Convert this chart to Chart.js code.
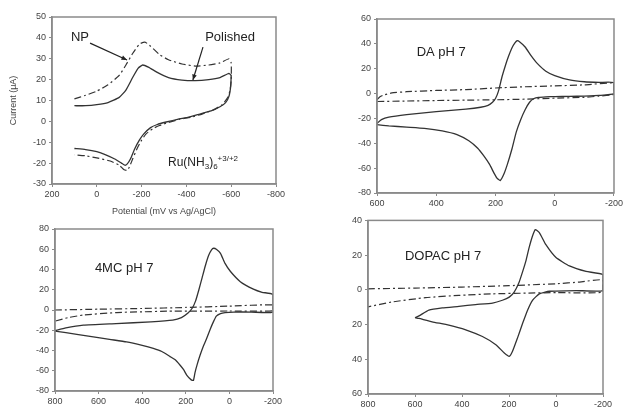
<!DOCTYPE html>
<html>
<head>
<meta charset="utf-8">
<script src="https://cdn.jsdelivr.net/npm/chart.js@4.4.0/dist/chart.umd.min.js"></script>
<style>
    html, body { margin: 0; padding: 0; background: #fff; }
    body { width: 625px; height: 414px; position: relative; overflow: hidden; }
    canvas { position: absolute; }
</style>
</head>
<body>
<canvas id="ru" style="left:0px;top:0px" width="290" height="218"></canvas>
<canvas id="da" style="left:320px;top:0px" width="305" height="210"></canvas>
<canvas id="mc" style="left:0px;top:218px" width="290" height="196"></canvas>
<canvas id="dopac" style="left:320px;top:212px" width="305" height="202"></canvas>
<script>
// Ru(NH3)6 panel - potential (mV) and current (uA), forward then reverse sweep
const npE = [100, 50, 0, -50, -100, -130, -160, -190, -215, -240, -280, -320, -380, -440, -500, -550, -590, -600,
    -600, -595, -585, -560, -520, -470, -420, -370, -320, -280, -250, -220, -200, -180, -160, -145, -135, -120, -100, -60, 0, 50, 100];
const npI = [10.8, 12.5, 14.5, 17.5, 22, 27, 32.5, 37, 38, 36, 32, 29.5, 27.5, 26.5, 27, 28, 30, 28,
    20, 15, 11.5, 8, 5.5, 3.5, 2, 1, -0.5, -2, -3.5, -6, -9, -13, -18, -22, -23.5, -23, -21, -19, -17.5, -16.5, -16];
const polE = [100, 50, 0, -50, -100, -130, -160, -185, -205, -230, -270, -320, -380, -440, -500, -550, -590, -600,
    -600, -598, -590, -575, -550, -510, -460, -410, -360, -310, -270, -240, -210, -190, -170, -150, -135, -125, -110, -80, -40, 0, 50, 100];
const polI = [7.5, 7.5, 8, 9, 11.5, 15, 21, 25.5, 27, 26, 23.5, 21, 19.8, 19.5, 20, 21, 23, 22,
    22, 17, 12, 9, 7, 5, 3.5, 2, 1, -0.3, -1.5, -3, -6, -9, -13, -18, -20.5, -21, -20, -18, -16, -14.5, -13.5, -13];

// DA pH 7
const daE = [600, 585, 560, 500, 400, 300, 250, 225, 210, 200, 190, 178, 166, 156, 145, 135, 127, 118, 100, 80, 60, 30, 0, -50, -100, -150, -200,
    -200, -150, -100, -50, 0, 30, 55, 70, 85, 100, 115, 130, 145, 160, 172, 184, 195, 205, 220, 240, 260, 290, 330, 380, 440, 500, 560, 600];
const daI = [-24, -21, -19, -17, -14.5, -12.5, -11, -9.5, -7, -4, 2, 13.5, 23, 30, 36.5, 40.5, 42.5, 41.5, 37.5, 30.5, 24.5, 18, 14.5, 11, 9.5, 9, 8.8,
    0, -1.5, -2, -2.3, -2.4, -2.6, -3, -4, -7, -13, -21, -31, -45, -57, -65, -70, -68, -64, -57, -50, -44, -38, -33, -30, -28, -27, -26, -25];
const daBlankE = [600, 590, 575, 550, 500, 400, 300, 200, 100, 0, -100, -200,
    -200, -150, -100, 0, 100, 200, 300, 400, 500, 600];
const daBlankI = [-5, -2.5, -1, 0.5, 1.5, 2.5, 3.2, 4.5, 5.5, 6.2, 7, 8.3,
    -0.5, -2, -3, -3.7, -4.5, -5, -5.3, -5.6, -6, -6.4];

// 4MC pH 7
const mcE = [800, 750, 670, 520, 360, 260, 220, 190, 170, 155, 140, 125, 110, 95, 82, 72, 60, 41, 20, -5, -50, -110, -150, -200,
    -200, -100, -20, 20, 41, 60, 72, 88, 104, 120, 135, 148, 158, 165, 175, 195, 210, 226, 250, 272, 310, 349, 400, 472, 550, 594, 700, 800];
const mcI = [-20.5, -17.7, -15, -13.4, -11.7, -10, -7.5, -3, 2, 9, 20, 32, 44, 54, 59.5, 61, 60, 56, 46, 38, 28, 20.6, 17.5, 15.3,
    -2, -2, -2, -2.5, -3.5, -6, -11, -19, -28, -36, -45, -54, -62, -69.5, -69, -64.5, -59, -54.6, -49, -46, -41, -38, -35, -31.5, -29, -27.5, -24, -20.8];
const mcBlankE = [800, 600, 400, 200, 0, -200,
    -200, 0, 287, 400, 517, 670, 740, 800];
const mcBlankI = [0, 0.8, 1.5, 2.5, 3.8, 5,
    -0.8, -1, -1.2, -1.8, -2.5, -5, -7.5, -11];

// DOPAC pH 7
const dopacE = [600, 583, 541, 484, 413, 342, 270, 228, 199, 178, 157, 142, 128, 115, 100, 88, 71, 43, 0, -57, -128, -200,
    -200, -86, 28, 71, 100, 121, 142, 164, 185, 199, 220, 256, 313, 384, 456, 527, 583, 600];
const dopacI = [-16, -15, -11.7, -10.4, -9.5, -8.5, -7.6, -6, -4.2, -1.3, 4.4, 10.5, 16.7, 24, 31, 34.7, 33, 26, 18.6, 13.8, 10.6, 8.7,
    -0.4, -0.4, -0.8, -2.3, -6, -11.7, -19.3, -27.8, -35.4, -38.3, -36.4, -31.6, -26.9, -23, -20.3, -18.4, -16.5, -16];
const dopacBlankE = [800, 600, 400, 200, 0, -100, -200,
    -200, 0, 128, 270, 413, 555, 698, 800];
const dopacBlankI = [0.6, 1.0, 1.6, 2.4, 3.5, 4.5, 5.7,
    -1.3, -1.6, -1.9, -2.3, -3.2, -4.5, -7, -9.8];

const INK = '#333';
const AXIS = '#8a8a8a';
const FONT = "'Liberation Sans', Arial, sans-serif";

function zip(es, is) {
    return es.map((e, i) => ({ x: e, y: is[i] }));
}

function solid(es, is) {
    return { data: zip(es, is), borderColor: INK, borderWidth: 1.3 };
}

function dashed(es, is) {
    return { data: zip(es, is), borderColor: INK, borderWidth: 1.2, borderDash: [7, 3, 2, 3] };
}

// Frame + text labels and arrows placed in data units
function notesPlugin(notes, arrows) {
    return {
        id: 'notes',
        afterDraw(chart) {
            const ctx = chart.ctx;
            const a = chart.chartArea;
            const xs = chart.scales.x, ys = chart.scales.y;
            ctx.save();
            ctx.strokeStyle = AXIS;
            ctx.lineWidth = 1.5;
            ctx.strokeRect(a.left, a.top, a.right - a.left, a.bottom - a.top);

            ctx.fillStyle = '#222';
            ctx.textBaseline = 'middle';
            (notes || []).forEach(n => {
                let px = xs.getPixelForValue(n.x);
                const py = ys.getPixelForValue(n.y);
                ctx.textAlign = n.align || 'left';
                if (!n.parts) {
                    ctx.font = (n.size || 13) + 'px ' + FONT;
                    ctx.fillText(n.text, px, py);
                    return;
                }
                // text with sub/superscripts
                ctx.textAlign = 'left';
                n.parts.forEach(p => {
                    const size = p.s ? 8 : (n.size || 13);
                    const dy = p.s === 1 ? 4 : (p.s === 2 ? -4 : 0);
                    ctx.font = size + 'px ' + FONT;
                    ctx.fillText(p.t, px, py + dy);
                    px += ctx.measureText(p.t).width;
                });
            });

            ctx.strokeStyle = '#222';
            ctx.fillStyle = '#222';
            ctx.lineWidth = 1.2;
            (arrows || []).forEach(r => {
                const x1 = xs.getPixelForValue(r.x1), y1 = ys.getPixelForValue(r.y1);
                const x2 = xs.getPixelForValue(r.x2), y2 = ys.getPixelForValue(r.y2);
                ctx.beginPath();
                ctx.moveTo(x1, y1);
                ctx.lineTo(x2, y2);
                ctx.stroke();
                const ang = Math.atan2(y2 - y1, x2 - x1);
                ctx.beginPath();
                ctx.moveTo(x2, y2);
                ctx.lineTo(x2 - 6 * Math.cos(ang - 0.4), y2 - 6 * Math.sin(ang - 0.4));
                ctx.lineTo(x2 - 6 * Math.cos(ang + 0.4), y2 - 6 * Math.sin(ang + 0.4));
                ctx.closePath();
                ctx.fill();
            });
            ctx.restore();
        }
    };
}

function makePanel(id, cfg) {
    const tickFont = { family: FONT, size: 9 };
    const x = {
        type: 'linear',
        reverse: true,
        min: cfg.xMin, max: cfg.xMax,
        ticks: { stepSize: 200, font: tickFont, color: '#444', padding: 2, maxRotation: 0 },
        border: { color: AXIS, width: 1.5 },
        grid: { drawOnChartArea: false, tickLength: 3, color: AXIS },
        afterFit(s) { s.height = cfg.xHeight; }
    };
    const y = {
        min: cfg.yMin, max: cfg.yMax,
        ticks: { stepSize: cfg.yStep, font: tickFont, color: '#444', padding: 3, callback: cfg.yLabel || (v => v) },
        border: { color: AXIS, width: 1.5 },
        grid: { drawOnChartArea: false, tickLength: 3, color: AXIS },
        afterFit(s) { s.width = cfg.yWidth; }
    };
    if (cfg.xTitle) {
        x.title = { display: true, text: cfg.xTitle, font: { family: FONT, size: 9 }, color: '#444', padding: 1 };
    }
    if (cfg.yTitle) {
        y.title = { display: true, text: cfg.yTitle, font: { family: FONT, size: 9 }, color: '#444', padding: 2 };
    }
    return new Chart(document.getElementById(id), {
        type: 'scatter',
        data: { datasets: cfg.datasets },
        options: {
            responsive: false,
            animation: false,
            devicePixelRatio: 1,
            layout: { padding: cfg.padding },
            showLine: true,
            elements: { point: { radius: 0 }, line: { tension: 0.15, fill: false } },
            plugins: { legend: { display: false }, tooltip: { enabled: false } },
            scales: { x, y }
        },
        plugins: [notesPlugin(cfg.notes, cfg.arrows)]
    });
}

makePanel('ru', {
    xMin: -800, xMax: 200, yMin: -30, yMax: 50, yStep: 10,
    yWidth: 46, xHeight: 34,
    padding: { left: 6, top: 17, right: 14, bottom: 0 },
    xTitle: 'Potential (mV vs Ag/AgCl)', yTitle: 'Current (μA)',
    datasets: [dashed(npE, npI), solid(polE, polI)],
    notes: [
        { x: 75, y: 40.4, text: 'NP', align: 'center' },
        { x: -595, y: 40.4, text: 'Polished', align: 'center' },
        { x: -318, y: -20, size: 12, parts: [{ t: 'Ru(NH', s: 0 }, { t: '3', s: 1 }, { t: ')', s: 0 }, { t: '6', s: 1 }, { t: '+3/+2', s: 2 }] }
    ],
    arrows: [
        { x1: 30, y1: 37.5, x2: -135, y2: 29.4 },
        { x1: -474, y1: 35.6, x2: -429, y2: 19.8 }
    ]
});

makePanel('da', {
    xMin: -200, xMax: 600, yMin: -80, yMax: 60, yStep: 20,
    yWidth: 57, xHeight: 17,
    padding: { left: 0, top: 19, right: 10, bottom: 0 },
    datasets: [solid(daE, daI), dashed(daBlankE, daBlankI)],
    notes: [{ x: 466, y: 33, text: 'DA pH 7' }]
});

makePanel('mc', {
    xMin: -200, xMax: 800, yMin: -80, yMax: 80, yStep: 20,
    yWidth: 55, xHeight: 23,
    padding: { left: 0, top: 11, right: 17, bottom: 0 },
    datasets: [solid(mcE, mcI), dashed(mcBlankE, mcBlankI)],
    notes: [{ x: 617, y: 41.5, text: '4MC pH 7' }]
});

makePanel('dopac', {
    xMin: -200, xMax: 800, yMin: -60, yMax: 40, yStep: 20,
    yWidth: 48, xHeight: 20,
    padding: { left: 0, top: 7, right: 22, bottom: 0 },
    yLabel: v => Math.abs(v),
    datasets: [solid(dopacE, dopacI), dashed(dopacBlankE, dopacBlankI)],
    notes: [{ x: 643, y: 19.4, text: 'DOPAC pH 7' }]
});
</script>
</body>
</html>
